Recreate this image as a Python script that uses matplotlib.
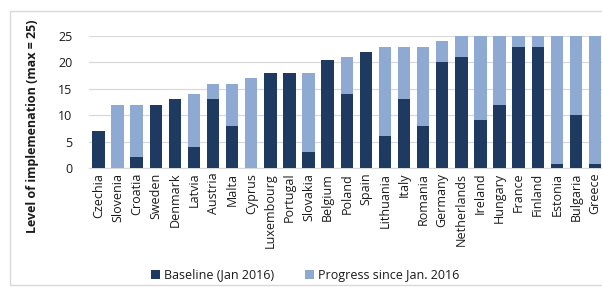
import matplotlib
matplotlib.use("Agg")
import matplotlib.pyplot as plt
import numpy as np
from matplotlib.patches import Rectangle

countries = ["Czechia", "Slovenia", "Croatia", "Sweden", "Denmark", "Latvia", "Austria",
             "Malta", "Cyprus", "Luxembourg", "Portugal", "Slovakia", "Belgium", "Poland",
             "Spain", "Lithuania", "Italy", "Romania", "Germany", "Netherlands", "Ireland",
             "Hungary", "France", "Finland", "Estonia", "Bulgaria", "Greece"]
baseline = [7, 0, 2, 12, 13, 4, 13, 8, 0, 18, 18, 3, 20.5, 14, 22, 6, 13, 8, 20, 21, 9,
            12, 23, 23, 0.8, 10, 0.8]
totals = [7, 12, 12, 12, 13, 14, 16, 16, 17, 18, 18, 18, 20.5, 21, 22, 23, 23, 23, 24, 25,
          25, 25, 25, 25, 25, 25, 25]

DARK = "#1f3a60"
LIGHT = "#8eaad2"
TEXT = "#1a1a1a"

plt.rcParams['font.family'] = ['Open Sans', 'DejaVu Sans']

W, H = 602, 287
fig = plt.figure(figsize=(W / 100, H / 100), dpi=100)
fig.patch.set_facecolor("white")

# axes placed in pixel terms; right edge runs off the canvas like the source crop
n = len(countries)
spacing = (595 - 98.5) / (n - 1)
left_px = 98.5 - spacing / 2
right_px = left_px + spacing * n
ax = fig.add_axes([left_px / W, (H - 168) / H, (right_px - left_px) / W, 132 / H])

x = np.arange(n)
progress = [t - b for t, b in zip(totals, baseline)]
ax.bar(x, baseline, width=0.65, color=DARK, label="Baseline (Jan 2016)", zorder=3)
ax.bar(x, progress, width=0.65, bottom=baseline, color=LIGHT,
       label="Progress since Jan. 2016", zorder=3)

ax.set_xlim(-0.5, n - 0.5)
ax.set_ylim(0, 25)
ax.set_yticks([0, 5, 10, 15, 20, 25])
ax.yaxis.grid(True, color="#d9d9d9", linewidth=0.9, zorder=0)
ax.set_axisbelow(True)
for s in ["top", "right", "left"]:
    ax.spines[s].set_visible(False)
ax.spines["bottom"].set_color("#d9d9d9")
ax.tick_params(axis="both", length=0, labelsize=9, colors=TEXT)
ax.tick_params(axis="y", pad=12)
ax.set_xticks(x)
ax.set_xticklabels(countries, rotation=90, fontsize=9)

fig.text(33 / W, 1 - 126 / H, "Level of implemenation (max = 25)", rotation=90,
         ha="center", va="center", fontsize=9, fontweight="bold", color=TEXT)

handles, labels = ax.get_legend_handles_labels()
leg = fig.legend(handles, labels, loc="center", bbox_to_anchor=(305 / W, 1 - 275 / H), ncol=2,
                 frameon=False, fontsize=9, handlelength=0.7, handleheight=0.7,
                 columnspacing=2.5, handletextpad=0.3)
for t in leg.get_texts():
    t.set_color(TEXT)

fig.add_artist(Rectangle((10 / W, 2 / H), 1.0, 1 - 13 / H, transform=fig.transFigure,
                         fill=False, edgecolor="#d9d9d9", linewidth=1))

fig.savefig("out.png", dpi=100, facecolor="white")
